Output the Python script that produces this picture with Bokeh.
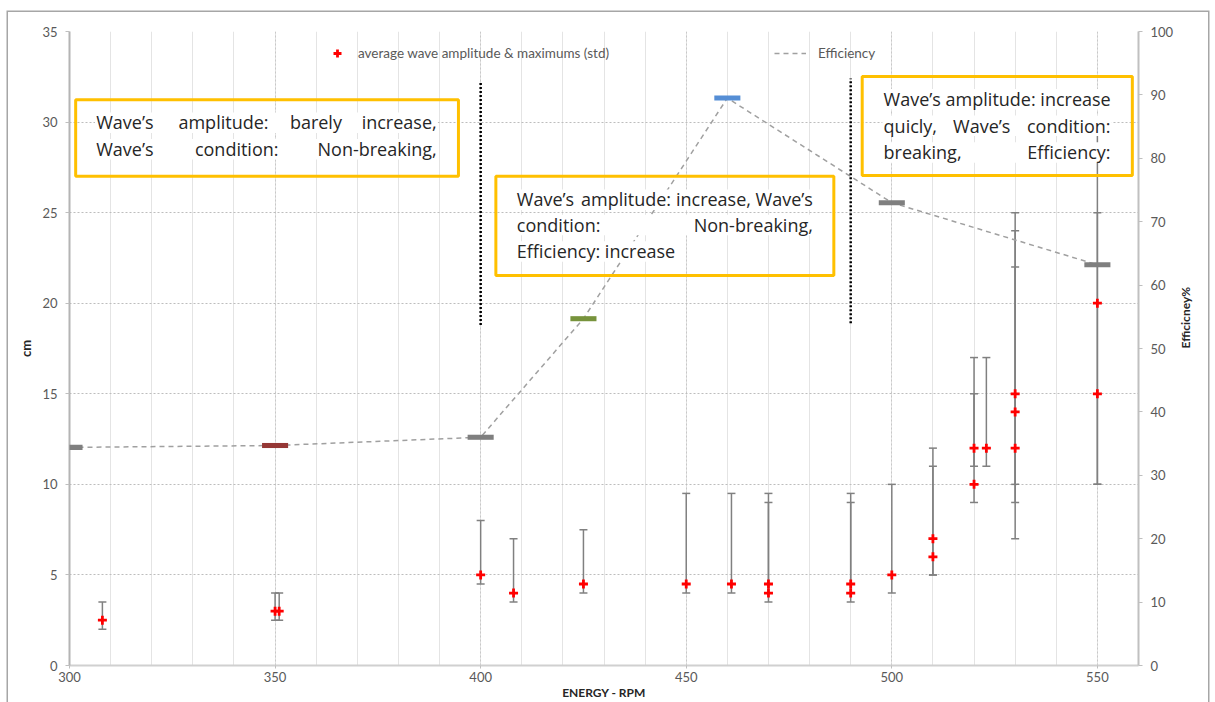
import math
from bokeh.plotting import figure
from bokeh.models import (Range1d, LinearAxis, SingleIntervalTicker, ColumnDataSource,
                          Whisker, TeeHead, Legend, LegendItem, BoxAnnotation)
from bokeh.core.properties import value
from bokeh.embed import file_html
from bokeh.resources import INLINE

# --- wave amplitude measurements (cm): mean with min / max spread ---
rpm = [308, 350, 351, 400, 408, 425, 450, 461, 470, 470, 490, 490, 500,
       510, 510, 520, 520, 523, 530, 530, 530, 550, 550]
amp = [2.5, 3, 3, 5, 4, 4.5, 4.5, 4.5, 4.5, 4, 4.5, 4, 5,
       7, 6, 12, 10, 12, 15, 14, 12, 20, 15]
amp_low = [2, 2.5, 2.5, 4.5, 3.5, 4, 4, 4, 4, 3.5, 4, 3.5, 4,
           5, 5, 11, 9, 11, 10, 9, 7, 10, 10]
amp_high = [3.5, 4, 4, 8, 7, 7.5, 9.5, 9.5, 9.5, 9, 9.5, 9, 10,
            12, 11, 17, 15, 17, 25, 24, 22, 29.5, 25]

# --- efficiency (%) per rotation speed ---
eff_rpm = [300, 350, 400, 425, 460, 500, 550]
eff = [34.4, 34.7, 36.0, 54.7, 89.5, 73.0, 63.2]
eff_colors = ["#7f7f7f", "#953735", "#7f7f7f", "#77933c", "#558ed5", "#7f7f7f", "#7f7f7f"]

# regime boundaries
boundary_rpm = [400, 490]

FONT = "Lato"
NOTE_FONT = "Open Sans"
TICK_COLOR = "#595959"

p = figure(width=1200, height=690, margin=(12, 0, 0, 8),
           x_range=Range1d(300, 560), y_range=Range1d(0, 35),
           output_backend="svg", toolbar_location=None,
           min_border_left=61, min_border_right=70, min_border_top=19, min_border_bottom=37,
           background_fill_color="white", border_fill_color="white")
p.styles = {"box-shadow": "0 0 0 1.5px #a6a6a6"}
p.outline_line_color = None
p.extra_y_ranges = {"eff": Range1d(0, 100)}

# axes and grids
xt = SingleIntervalTicker(interval=50, num_minor_ticks=5)
yt = SingleIntervalTicker(interval=5, num_minor_ticks=0)
p.xaxis.ticker = xt
p.yaxis.ticker = yt
p.xgrid.ticker = xt
p.ygrid.ticker = yt

p.xgrid.grid_line_color = "#c8c8c8"
p.xgrid.grid_line_dash = "2 2"
p.xgrid.minor_grid_line_color = "#e4e4e4"
p.xgrid.minor_grid_line_width = 1
p.ygrid.grid_line_color = "#bdbdbd"
p.ygrid.grid_line_dash = "2 2"

for ax in (p.xaxis[0], p.yaxis[0]):
    ax.major_label_text_font = FONT
    ax.major_label_text_font_size = "13px"
    ax.major_label_text_color = TICK_COLOR
    ax.axis_label_text_font = FONT
    ax.axis_label_text_font_size = "13px"
    ax.axis_label_text_font_style = "bold"
    ax.axis_label_text_color = "#262626"
    ax.minor_tick_line_color = None
    ax.major_tick_in = 0
    ax.major_tick_out = 4
    ax.major_tick_line_color = "#bfbfbf"

p.xaxis.axis_label = "ENERGY - RPM"
p.xaxis.axis_label_text_font_size = "12px"
p.xaxis.axis_line_color = "#d0d0d0"
p.xaxis.axis_line_width = 2
p.xaxis.major_tick_out = 3
p.xaxis.major_label_standoff = 2
p.xaxis.axis_label_standoff = 0

p.yaxis.axis_label = "cm"
p.yaxis.axis_line_color = "#b4b4b4"
p.yaxis.axis_line_width = 2
p.yaxis.major_label_standoff = 8
p.yaxis.axis_label_standoff = 5

right = LinearAxis(y_range_name="eff", axis_label="Efficicney%",
                   ticker=SingleIntervalTicker(interval=10, num_minor_ticks=0))
right.major_label_text_font = FONT
right.major_label_text_font_size = "13px"
right.major_label_text_color = TICK_COLOR
right.axis_label_text_font = FONT
right.axis_label_text_font_size = "12px"
right.axis_label_text_font_style = "bold"
right.axis_label_text_color = "#262626"
right.axis_label_orientation = math.pi / 2
right.minor_tick_line_color = None
right.major_tick_in = 0
right.major_tick_out = 4
right.major_tick_line_color = "#bfbfbf"
right.axis_line_color = "#c0c0c0"
right.axis_line_width = 2
right.major_label_standoff = 8
right.axis_label_standoff = 9
p.add_layout(right, "right")

# amplitude spread whiskers
src = ColumnDataSource(dict(rpm=rpm, amp=amp, low=amp_low, high=amp_high))
wcol = "#808080"
whisk = Whisker(source=src, base="rpm", lower="low", upper="high",
                line_color=wcol, line_width=1.5,
                upper_head=TeeHead(size=8, line_color=wcol, line_width=1.5),
                lower_head=TeeHead(size=8, line_color=wcol, line_width=1.5))
whisk.level = "underlay"
p.add_layout(whisk)

amp_r = p.scatter("rpm", "amp", source=src, marker="cross", size=9,
                  line_color="#ff0000", line_width=2.8)

# efficiency line with bar markers
esrc = ColumnDataSource(dict(rpm=eff_rpm, eff=eff))
eff_r = p.line("rpm", "eff", source=esrc, y_range_name="eff",
               line_color="#a0a0a0", line_width=1.5, line_dash="5 4")
BAR_HALF_W = 3.17   # rpm
BAR_HALF_H = 0.40   # %
for xr, yv, c in zip(eff_rpm, eff, eff_colors):
    p.add_layout(BoxAnnotation(left=xr - BAR_HALF_W, right=xr + BAR_HALF_W,
                               bottom=yv - BAR_HALF_H, top=yv + BAR_HALF_H,
                               y_range_name="eff", fill_color=c, fill_alpha=1,
                               line_color=None))

# regime boundaries
p.segment(x0=boundary_rpm, x1=boundary_rpm, y0=[18.8, 18.9], y1=[32.2, 32.4],
          line_color="black", line_width=2.5, line_dash="2 2")

# regime descriptions (justified text blocks)
boxes = [
    dict(left=301.5, right=394.6, top=31.23, bottom=27.01,
         lines=[(29.98, 306.5, 389.3, [("Wave’s", 306.5), ("amplitude:", 326.5), ("barely", 353.6)], "increase,"),
                (28.52, 306.5, 389.3, [("Wave’s", 306.5), ("condition:", 330.5)], "Non-breaking,")]),
    dict(left=403.7, right=485.9, top=27.01, bottom=21.53,
         lines=[(25.73, 408.8, 480.8, [("Wave’s", 408.8), ("amplitude:", 424.4), ("increase,", 447.5)], "Wave’s"),
                (24.33, 408.8, 480.8, [("condition:", 408.8)], "Non-breaking,"),
                (22.87, 408.8, 447.0, [("Efficiency: increase", 408.8)], None)]),
    dict(left=492.8, right=558.5, top=32.52, bottom=27.05,
         lines=[(31.28, 498.0, 553.2, [("Wave’s amplitude: increase", 498.0)], None),
                (29.81, 498.0, 553.2, [("quicly,", 498.0), ("Wave’s", 514.9)], "condition:"),
                (28.34, 498.0, 553.2, [("breaking,", 498.0)], "Efficiency:")]),
]

band_l, band_r, band_b, band_t = [], [], [], []
lw, lx, ly, rw, rx, ry = [], [], [], [], [], []
for b in boxes:
    for (y, x0, x1, words, last) in b["lines"]:
        band_l.append(x0 - 0.3)
        band_r.append(x1 + 0.3)
        band_b.append(y - 0.58)
        band_t.append(y + 0.55)
        for w, x in words:
            lw.append(w); lx.append(x); ly.append(y)
        if last:
            rw.append(last); rx.append(x1); ry.append(y)

p.quad(left=band_l, right=band_r, bottom=band_b, top=band_t,
       fill_color="white", line_color=None)
p.text(x=lx, y=ly, text=lw, text_align="left", text_baseline="middle",
       text_font=value(NOTE_FONT), text_font_size="18px", text_color="#262626")
p.text(x=rx, y=ry, text=rw, text_align="right", text_baseline="middle",
       text_font=value(NOTE_FONT), text_font_size="18px", text_color="#262626")

for b in boxes:
    p.add_layout(BoxAnnotation(left=b["left"], right=b["right"], top=b["top"], bottom=b["bottom"],
                               fill_alpha=0, line_color="#ffc000", line_alpha=1, line_width=3))

# legends
for item, loc, gw, standoff in [
        (LegendItem(label="average wave amplitude & maximums (std)", renderers=[amp_r]), (258, 602), 20, 11),
        (LegendItem(label="Efficiency", renderers=[eff_r]), (705, 602), 32, 12)]:
    lg = Legend(items=[item], location=loc, orientation="horizontal",
                padding=0, margin=0, glyph_width=gw, glyph_height=20, label_height=20,
                label_standoff=standoff, background_fill_alpha=0, border_line_color=None,
                label_text_font=FONT, label_text_font_size="13.5px", label_text_color=TICK_COLOR)
    p.add_layout(lg)

open("out.html", "w").write(file_html(p, INLINE))
